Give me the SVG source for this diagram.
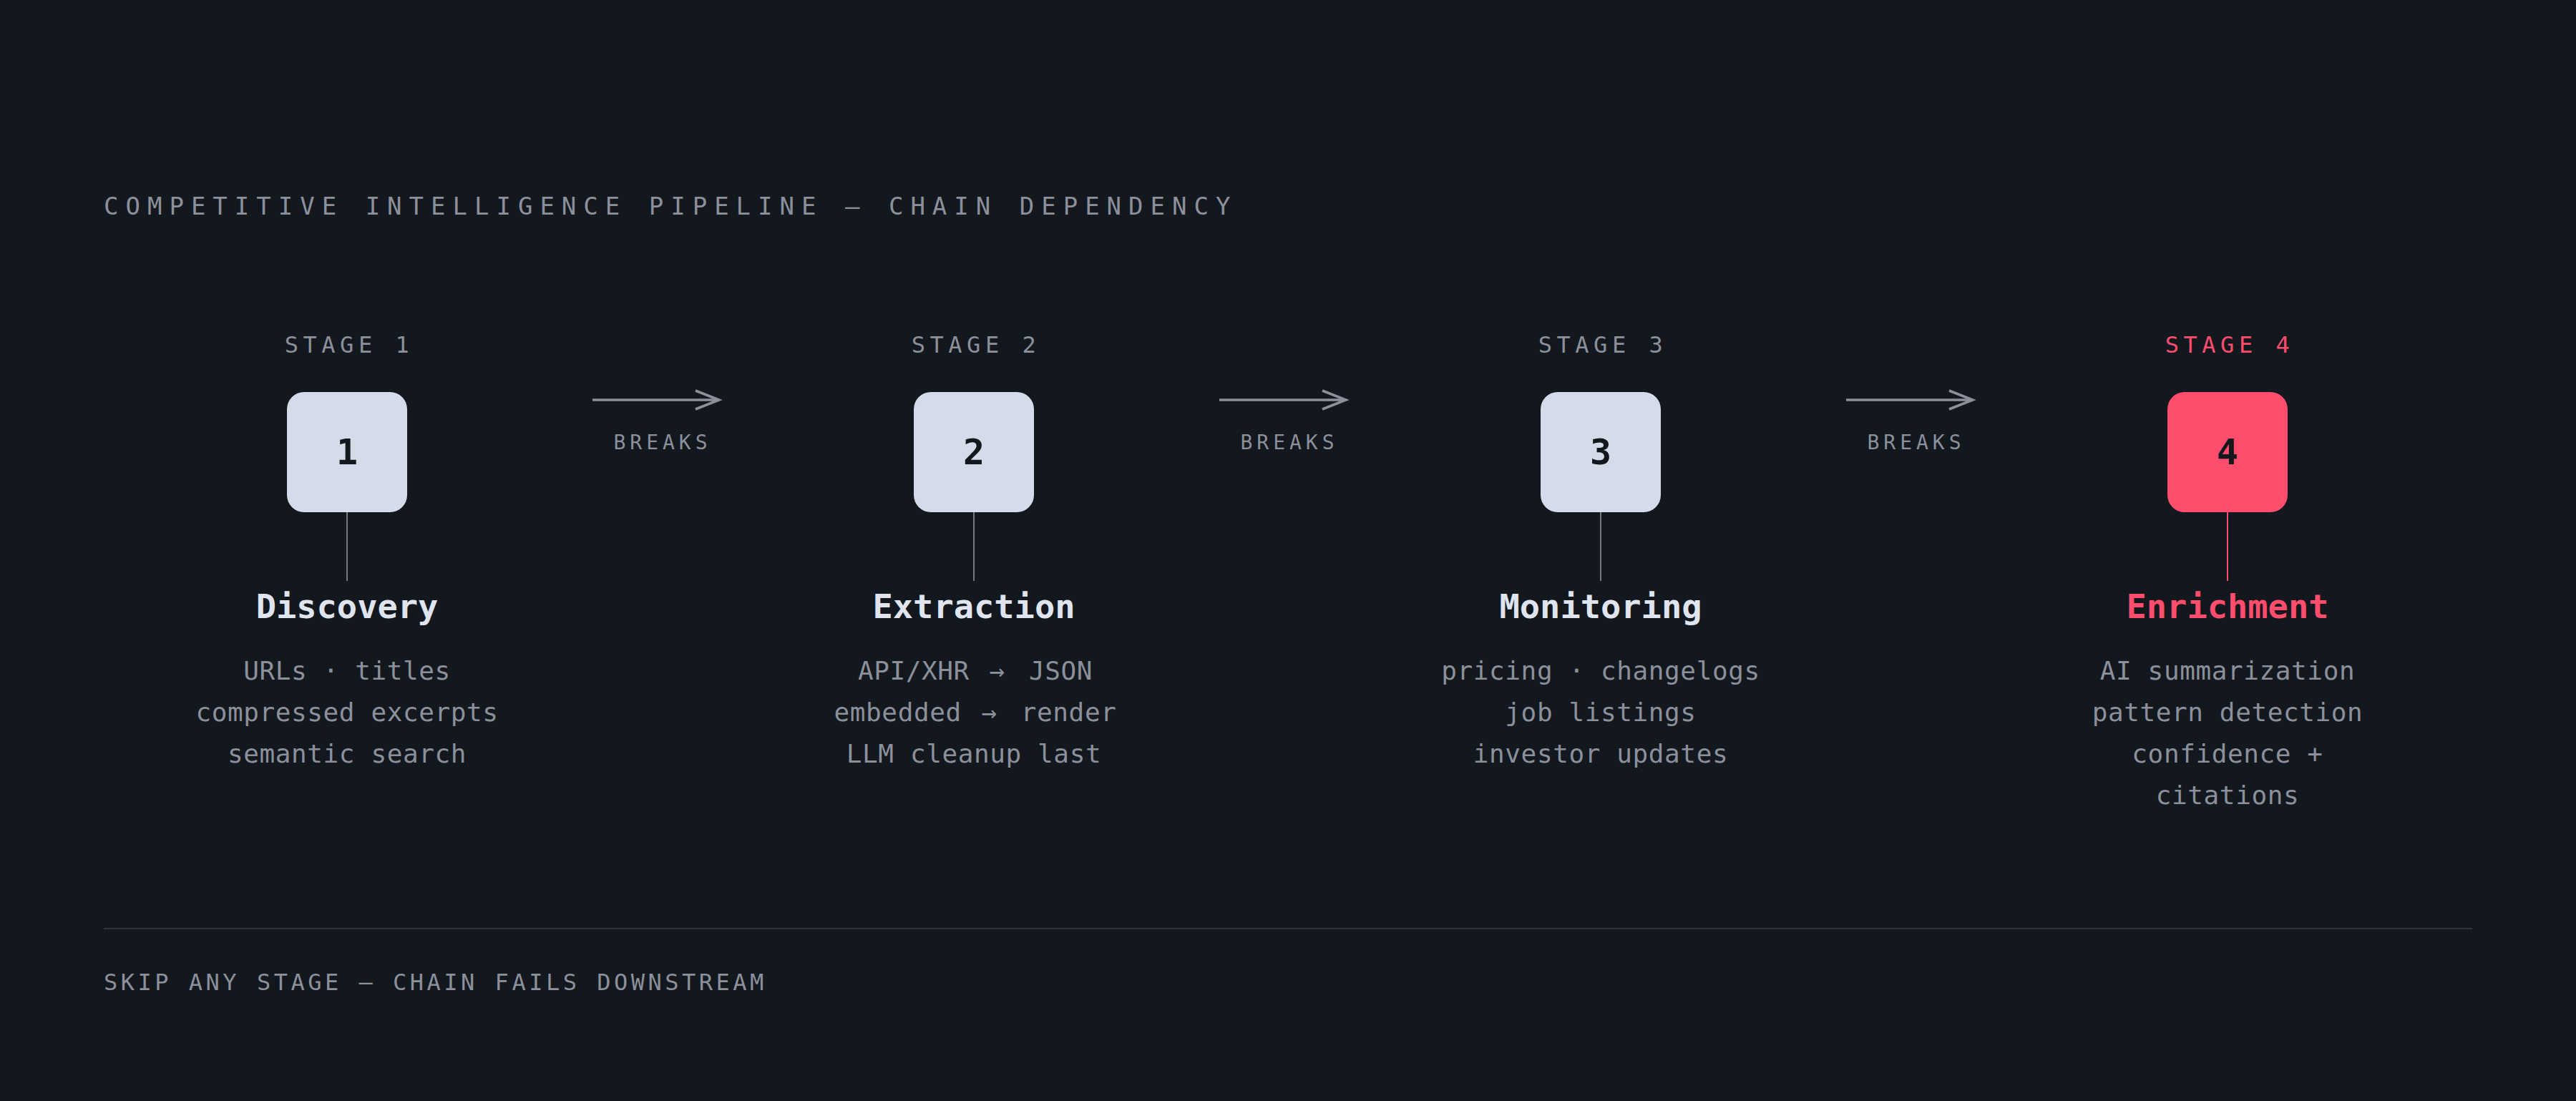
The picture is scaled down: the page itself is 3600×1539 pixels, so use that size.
<svg xmlns="http://www.w3.org/2000/svg" width="3600" height="1539" viewBox="0 0 3600 1539">
  <defs>
    <style>
      text { font-family: "DejaVu Sans Mono", "Liberation Mono", monospace; }
      .title { font-size: 34px; letter-spacing: 10px; fill: #8b909b; }
      .stage { font-size: 32px; letter-spacing: 6.5px; fill: #8b909b; text-anchor: middle; }
      .stage.hot { fill: #ff4d6d; }
      .num { font-size: 50px; font-weight: bold; fill: #13171e; text-anchor: middle; }
      .name { font-size: 47px; font-weight: bold; fill: #dfe4ef; text-anchor: middle; }
      .name.hot { fill: #ff4d6d; }
      .desc { font-size: 36px; letter-spacing: 0.6px; fill: #8b909b; text-anchor: middle; }
      .wide { letter-spacing: 6px; }
      .breaks { font-size: 28px; letter-spacing: 6px; fill: #8b909b; text-anchor: middle; }
      .foot { font-size: 32px; letter-spacing: 4.5px; fill: #8b909b; }
      .box { fill: #d5dbe8; }
      .box.hot { fill: #ff4d6d; }
      .stem { stroke: #737882; stroke-width: 2; }
      .stem.hot { stroke: #ff4d6d; }
      .arrow { stroke: #8b909b; stroke-width: 3.5; fill: none; marker-end: url(#chev); }
    </style>
    <marker id="chev" markerUnits="userSpaceOnUse" markerWidth="40" markerHeight="32" refX="35" refY="15" orient="auto" overflow="visible">
      <path d="M2,2 L35,15 L2,28" fill="none" stroke="#8b909b" stroke-width="3.5"/>
    </marker>
  </defs>

  <rect x="0" y="0" width="3600" height="1539" fill="#13171e"/>

  <text id="title" class="title" x="145" y="300">COMPETITIVE INTELLIGENCE PIPELINE — CHAIN DEPENDENCY</text>

  <g id="connectors">
    <path class="arrow" d="M828,559 H1005"/>
    <path class="arrow" d="M1704,559 H1881"/>
    <path class="arrow" d="M2580,559 H2757"/>
    <text class="breaks" x="926" y="628">BREAKS</text>
    <text class="breaks" x="1802" y="628">BREAKS</text>
    <text class="breaks" x="2678" y="628">BREAKS</text>
    <line class="stem" x1="485" y1="716" x2="485" y2="812"/>
    <line class="stem" x1="1361" y1="716" x2="1361" y2="812"/>
    <line class="stem" x1="2237" y1="716" x2="2237" y2="812"/>
    <line class="stem hot" x1="3113" y1="716" x2="3113" y2="812"/>
  </g>

  <g id="stage1">
    <text class="stage" x="488" y="493">STAGE 1</text>
    <rect class="box" x="401" y="548" width="168" height="168" rx="24"/>
    <text class="num" x="485" y="649">1</text>
    <text class="name" x="485" y="864">Discovery</text>
    <text class="desc" x="485" y="950">URLs · titles</text>
    <text class="desc" x="485" y="1008">compressed excerpts</text>
    <text class="desc" x="485" y="1066">semantic search</text>
  </g>

  <g id="stage2">
    <text class="stage" x="1364" y="493">STAGE 2</text>
    <rect class="box" x="1277" y="548" width="168" height="168" rx="24"/>
    <text class="num" x="1361" y="649">2</text>
    <text class="name" x="1361" y="864">Extraction</text>
    <text class="desc" x="1363" y="950">API/XHR<tspan class="wide"> → </tspan>JSON</text>
    <text class="desc" x="1363" y="1008">embedded<tspan class="wide"> → </tspan>render</text>
    <text class="desc" x="1361" y="1066">LLM cleanup last</text>
  </g>

  <g id="stage3">
    <text class="stage" x="2240" y="493">STAGE 3</text>
    <rect class="box" x="2153" y="548" width="168" height="168" rx="24"/>
    <text class="num" x="2237" y="649">3</text>
    <text class="name" x="2237" y="864">Monitoring</text>
    <text class="desc" x="2237" y="950">pricing · changelogs</text>
    <text class="desc" x="2237" y="1008">job listings</text>
    <text class="desc" x="2237" y="1066">investor updates</text>
  </g>

  <g id="stage4">
    <text class="stage hot" x="3116" y="493">STAGE 4</text>
    <rect class="box hot" x="3029" y="548" width="168" height="168" rx="24"/>
    <text class="num" x="3113" y="649">4</text>
    <text class="name hot" x="3113" y="864">Enrichment</text>
    <text class="desc" x="3113" y="950">AI summarization</text>
    <text class="desc" x="3113" y="1008">pattern detection</text>
    <text class="desc" x="3113" y="1066">confidence +</text>
    <text class="desc" x="3113" y="1124">citations</text>
  </g>

  <line id="divider" x1="145" y1="1298" x2="3455" y2="1298" stroke="#2f333c" stroke-width="2"/>
  <text id="footer" class="foot" x="145" y="1384">SKIP ANY STAGE — CHAIN FAILS DOWNSTREAM</text>
</svg>
